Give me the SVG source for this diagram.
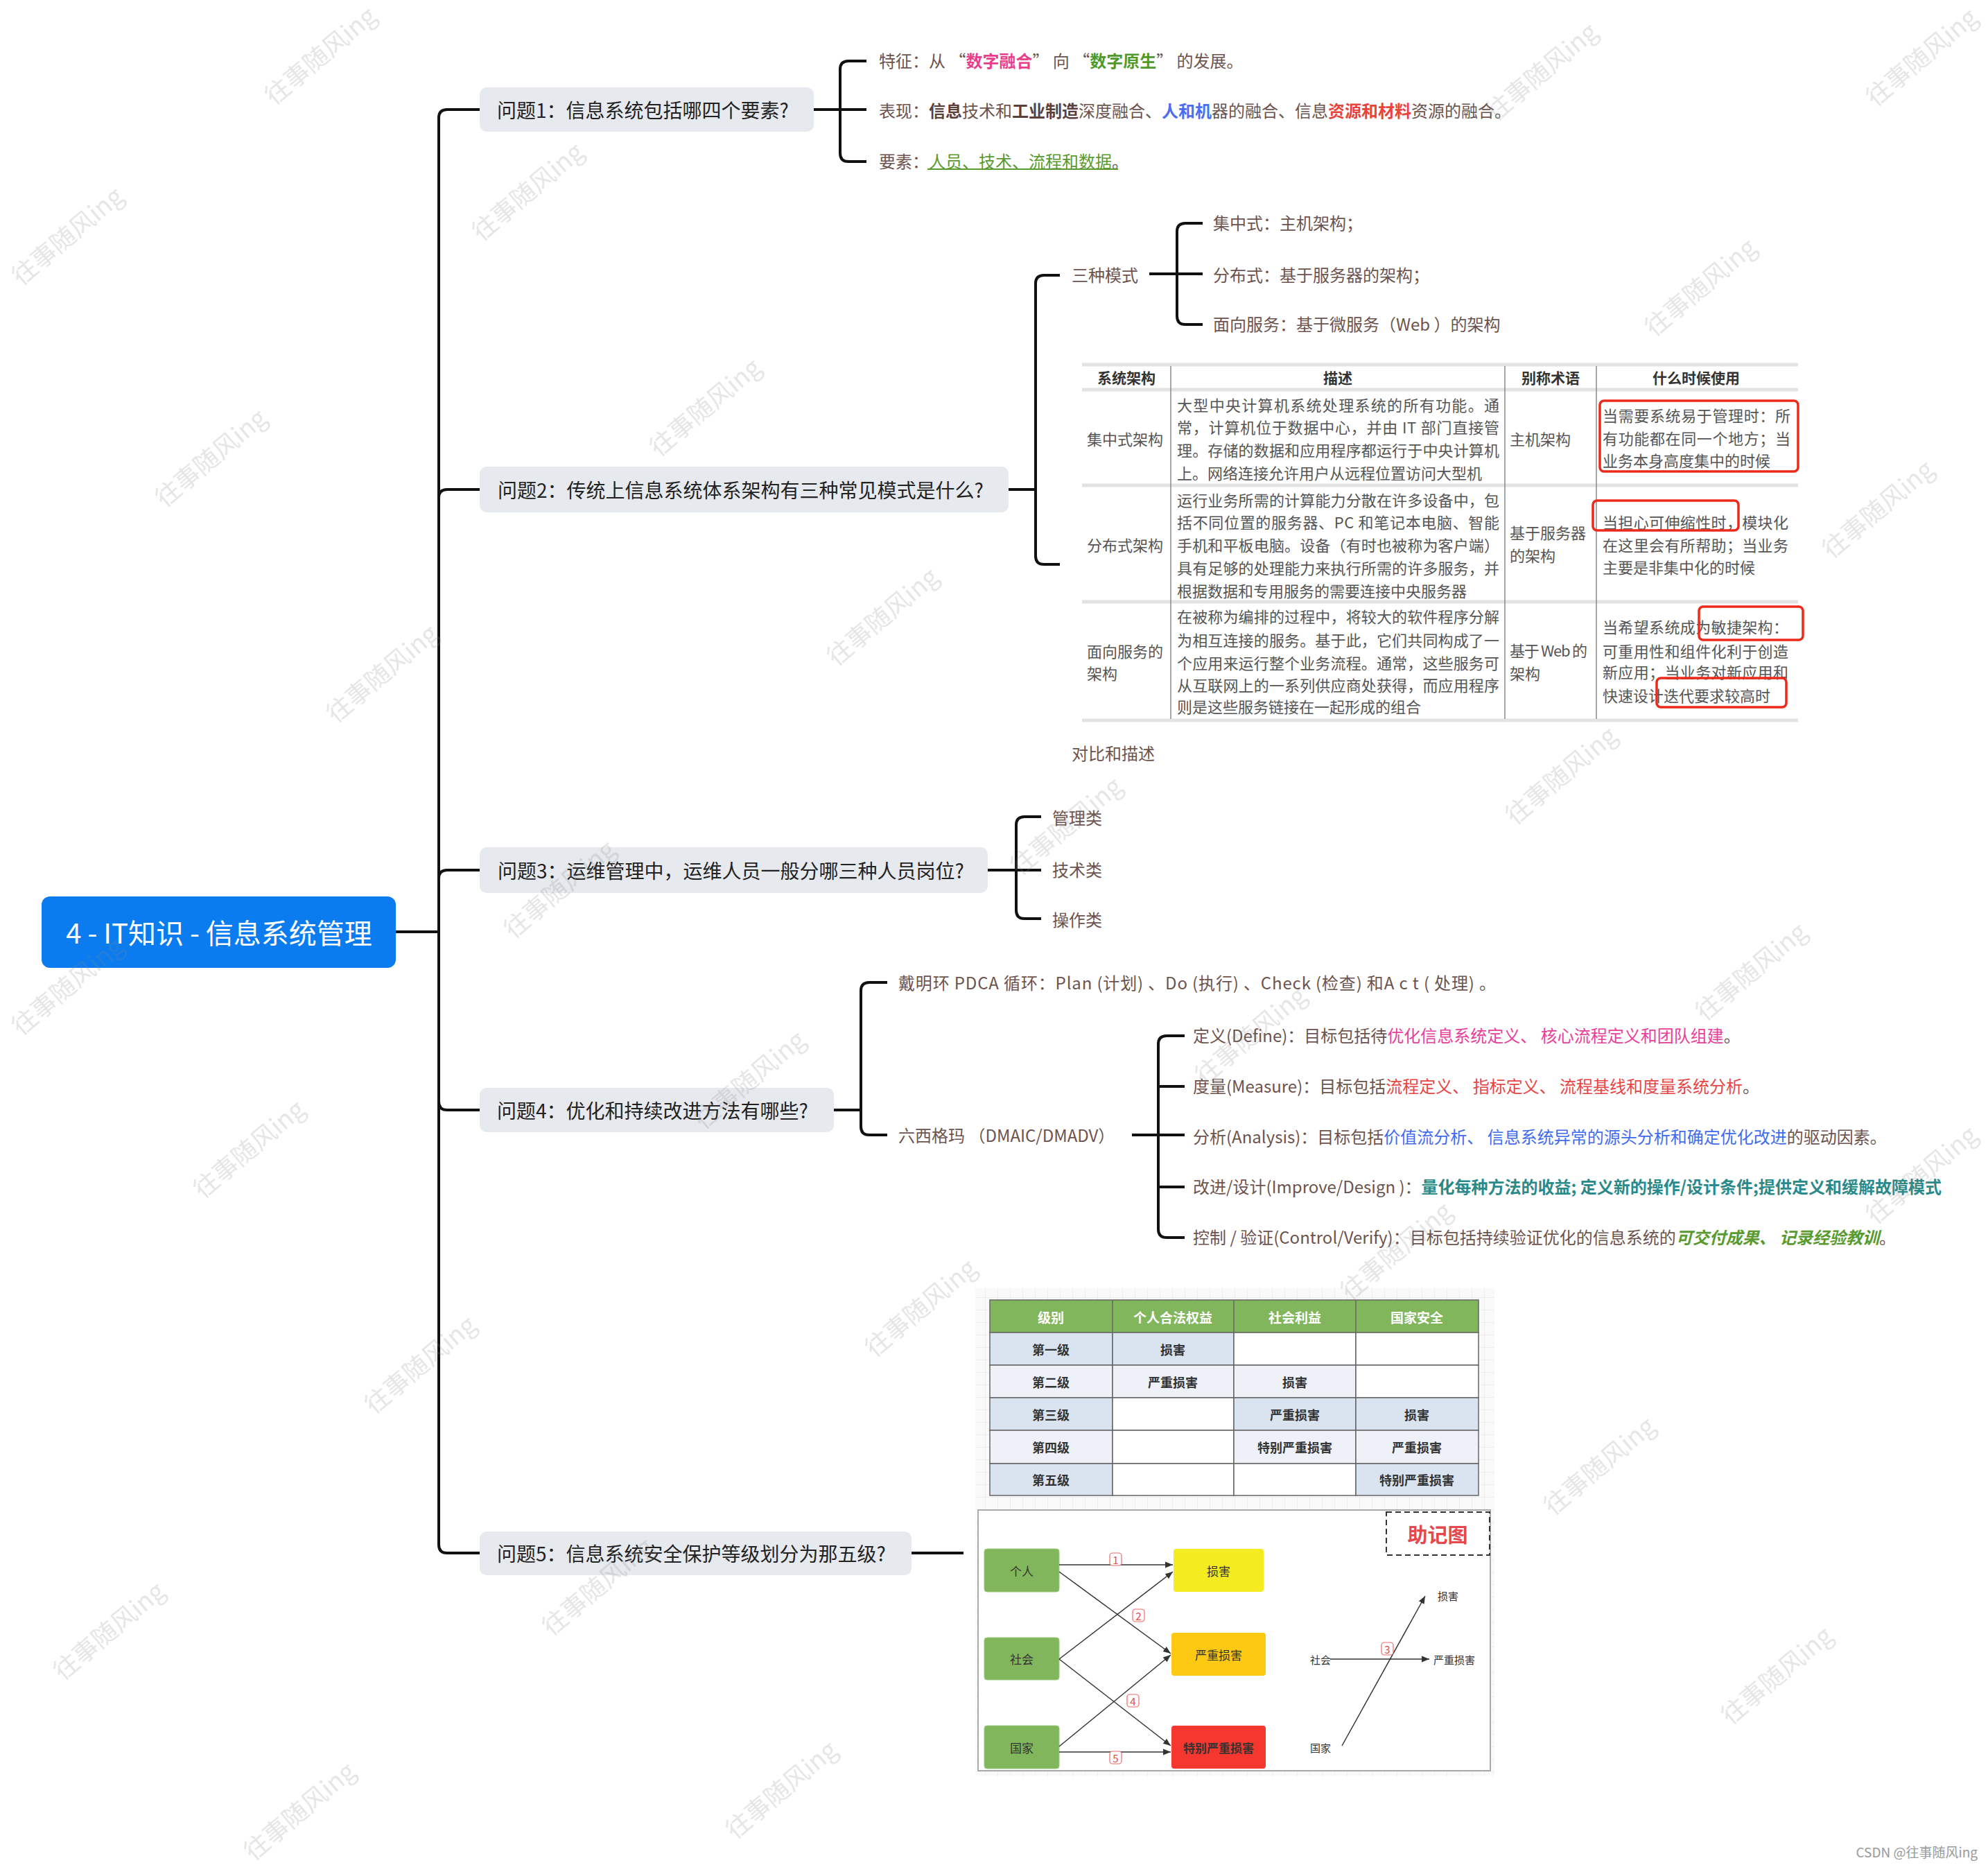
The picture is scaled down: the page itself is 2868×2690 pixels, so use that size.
<svg xmlns="http://www.w3.org/2000/svg" width="2868" height="2690" viewBox="0 0 2868 2690" font-family="'Noto Sans CJK SC', 'Noto Sans', 'Liberation Sans', sans-serif">
<style>
text{dominant-baseline:central}
.root{font-size:40px;fill:#fff}
.q{font-size:28px;fill:#222}
.qb{fill:#e6e9ed}
.c{font-size:24px;fill:#6d534d}
.t{font-size:22px;fill:#555}
.th{font-size:21px;fill:#333;font-weight:bold}
.br{fill:none;stroke:#111;stroke-width:4;stroke-linecap:butt}
.sep{stroke:#e3e3e3;stroke-width:5}
.vl{stroke:#8a8a8a;stroke-width:1.5}
.red{fill:none;stroke:#ec2a1c;stroke-width:3.5}
.lh{font-size:19px;fill:#fff;font-weight:bold}
.lc{font-size:18px;fill:#333;font-weight:bold}
.cell{stroke:#666;stroke-width:1.5}
.mb{font-size:17px;fill:#333}
.ms{font-size:15px;fill:#333}
.ar{stroke:#333;stroke-width:1.5;fill:none;marker-end:url(#arr)}
.nl{fill:#fff;stroke:#f06a6a;stroke-width:1.2}
.nt{font-size:15px;fill:#e84a4a}
.wm{font-size:36px;fill:#888;opacity:0.2}
</style>
<defs>
<pattern id="grid" width="18" height="18" patternUnits="userSpaceOnUse"><rect width="18" height="18" fill="#fafafa"/><path d="M18 0V18H0" fill="none" stroke="#e4e4e4" stroke-width="1"/></pattern>
<marker id="arr" viewBox="0 0 10 10" refX="10" refY="5" markerWidth="11" markerHeight="11" markerUnits="userSpaceOnUse" orient="auto"><path d="M0 1L10 5L0 9z" fill="#333"/></marker>
</defs>
<rect width="2868" height="2690" fill="#fff"/>

<g id="connectors">
<path class="br" d="M571 1344H633"/>
<path class="br" d="M633 1344V170Q633 158 645 158H692"/>
<path class="br" d="M633 1344V718Q633 706 645 706H692"/>
<path class="br" d="M633 1344V1267Q633 1255 645 1255H692"/>
<path class="br" d="M633 1344V1589Q633 1601 645 1601H692"/>
<path class="br" d="M633 1344V2228Q633 2240 645 2240H692"/>
<path class="br" d="M1174 158H1212M1212 158V100Q1212 88 1224 88H1250M1212 158H1250M1212 158V221Q1212 233 1224 233H1250"/>
<path class="br" d="M1455 706H1494M1494 706V409Q1494 397 1506 397H1529M1494 706V802Q1494 814 1506 814H1529"/>
<path class="br" d="M1658 395H1698M1698 395V334Q1698 322 1710 322H1735M1698 395H1735M1698 395V456Q1698 468 1710 468H1735"/>
<path class="br" d="M1425 1255H1466M1466 1255V1190Q1466 1178 1478 1178H1502M1466 1255H1502M1466 1255V1313Q1466 1325 1478 1325H1502"/>
<path class="br" d="M1203 1601H1242M1242 1601V1429Q1242 1417 1254 1417H1280M1242 1601V1625Q1242 1637 1254 1637H1280"/>
<path class="br" d="M1633 1637H1671M1671 1637V1506Q1671 1494 1683 1494H1709M1671 1567H1709M1671 1637H1709M1671 1712H1709M1671 1637V1773Q1671 1785 1683 1785H1709"/>
<path class="br" d="M1315 2240H1390"/>
</g>

<g id="root">
<rect x="60" y="1293" width="511" height="103" rx="12" fill="#0a7cf0"/>
<text class="root" x="316" y="1344" text-anchor="middle">4 - IT知识 - 信息系统管理</text>
</g>

<g id="q1">
<rect class="qb" x="692" y="126" width="482" height="64" rx="10"/>
<text class="q" x="717" y="158">问题1：信息系统包括哪四个要素?</text>
</g>
<g id="q1-c1"><text class="c" x="1268" y="86">特征：从 “<tspan fill="#e83e8c" font-weight="bold">数字融合</tspan>” 向 “<tspan fill="#4e9a2a" font-weight="bold">数字原生</tspan>” 的发展。</text></g>
<g id="q1-c2"><text class="c" x="1268" y="158">表现：<tspan font-weight="bold" fill="#5a3f3a">信息</tspan>技术和<tspan font-weight="bold" fill="#5a3f3a">工业制造</tspan>深度融合、<tspan fill="#4b6ef5" font-weight="bold">人和机</tspan>器的融合、信息<tspan fill="#e8443a" font-weight="bold">资源和材料</tspan>资源的融合。</text></g>
<g id="q1-c3"><text class="c" x="1268" y="231">要素：<tspan fill="#5a9a2f">人员、技术、流程和数据</tspan>。</text>
<line x1="1338" y1="244" x2="1613" y2="244" stroke="#5a9a2f" stroke-width="2"/></g>

<g id="q2">
<rect class="qb" x="692" y="673" width="763" height="66" rx="10"/>
<text class="q" x="718" y="706">问题2：传统上信息系统体系架构有三种常见模式是什么?</text>
</g>
<g id="q2-modes"><text class="c" x="1546" y="395">三种模式</text></g>
<g id="q2-m1"><text class="c" x="1750" y="320">集中式：主机架构；</text></g>
<g id="q2-m2"><text class="c" x="1750" y="395">分布式：基于服务器的架构；</text></g>
<g id="q2-m3"><text class="c" x="1750" y="466">面向服务：基于微服务（Web ）的架构</text></g>

<g id="q2-table">
<rect x="1551" y="515" width="1052" height="530" fill="#fff"/>
<line class="sep" x1="1561" y1="526" x2="2594" y2="526"/>
<line class="sep" x1="1561" y1="562" x2="2594" y2="562"/>
<line class="sep" x1="1561" y1="700" x2="2594" y2="700"/>
<line class="sep" x1="1561" y1="868" x2="2594" y2="868"/>
<line class="sep" x1="1561" y1="1039" x2="2594" y2="1039"/>
<line class="vl" x1="1689" y1="528" x2="1689" y2="1037"/>
<line class="vl" x1="2171" y1="528" x2="2171" y2="1037"/>
<line class="vl" x1="2303" y1="528" x2="2303" y2="1037"/>
<text class="th" x="1625" y="544" text-anchor="middle">系统架构</text>
<text class="th" x="1930" y="544" text-anchor="middle">描述</text>
<text class="th" x="2237" y="544" text-anchor="middle">别称术语</text>
<text class="th" x="2447" y="544" text-anchor="middle">什么时候使用</text>
<text class="t" x="1568" y="632">集中式架构</text>
<text class="t" x="1698" y="583" textLength="465" lengthAdjust="spacing">大型中央计算机系统处理系统的所有功能。通</text>
<text class="t" x="1698" y="615" textLength="465" lengthAdjust="spacing">常，计算机位于数据中心，并由 IT 部门直接管</text>
<text class="t" x="1698" y="648" textLength="465" lengthAdjust="spacing">理。存储的数据和应用程序都运行于中央计算机</text>
<text class="t" x="1698" y="681">上。网络连接允许用户从远程位置访问大型机</text>
<text class="t" x="2178" y="632">主机架构</text>
<text class="t" x="2312" y="598" textLength="271" lengthAdjust="spacing">当需要系统易于管理时：所</text>
<text class="t" x="2312" y="631" textLength="271" lengthAdjust="spacing">有功能都在同一个地方；当</text>
<text class="t" x="2312" y="663">业务本身高度集中的时候</text>
<rect class="red" x="2308" y="578" width="286" height="102" rx="6"/>
<text class="t" x="1568" y="785">分布式架构</text>
<text class="t" x="1698" y="720" textLength="465" lengthAdjust="spacing">运行业务所需的计算能力分散在许多设备中，包</text>
<text class="t" x="1698" y="752" textLength="465" lengthAdjust="spacing">括不同位置的服务器、PC 和笔记本电脑、智能</text>
<text class="t" x="1698" y="785" textLength="465" lengthAdjust="spacing">手机和平板电脑。设备（有时也被称为客户端）</text>
<text class="t" x="1698" y="818" textLength="465" lengthAdjust="spacing">具有足够的处理能力来执行所需的许多服务，并</text>
<text class="t" x="1698" y="851">根据数据和专用服务的需要连接中央服务器</text>
<text class="t" x="2178" y="767">基于服务器</text>
<text class="t" x="2178" y="800">的架构</text>
<text class="t" x="2312" y="752" textLength="268" lengthAdjust="spacing">当担心可伸缩性时，模块化</text>
<text class="t" x="2312" y="785" textLength="268" lengthAdjust="spacing">在这里会有所帮助；当业务</text>
<text class="t" x="2312" y="817">主要是非集中化的时候</text>
<rect class="red" x="2298" y="722" width="210" height="43" rx="6"/>
<text class="t" x="1568" y="938">面向服务的</text>
<text class="t" x="1568" y="970">架构</text>
<text class="t" x="1698" y="888" textLength="465" lengthAdjust="spacing">在被称为编排的过程中，将较大的软件程序分解</text>
<text class="t" x="1698" y="922" textLength="465" lengthAdjust="spacing">为相互连接的服务。基于此，它们共同构成了一</text>
<text class="t" x="1698" y="955" textLength="465" lengthAdjust="spacing">个应用来运行整个业务流程。通常，这些服务可</text>
<text class="t" x="1698" y="987" textLength="465" lengthAdjust="spacing">从互联网上的一系列供应商处获得，而应用程序</text>
<text class="t" x="1698" y="1018">则是这些服务链接在一起形成的组合</text>
<text class="t" x="2178" y="937" textLength="112" lengthAdjust="spacing">基于 Web 的</text>
<text class="t" x="2178" y="970">架构</text>
<text class="t" x="2312" y="903" textLength="268" lengthAdjust="spacing">当希望系统成为敏捷架构：</text>
<text class="t" x="2312" y="938" textLength="268" lengthAdjust="spacing">可重用性和组件化利于创造</text>
<text class="t" x="2312" y="968" textLength="268" lengthAdjust="spacing">新应用；当业务对新应用和</text>
<text class="t" x="2312" y="1002">快速设计迭代要求较高时</text>
<rect class="red" x="2451" y="875" width="150" height="48" rx="6"/>
<rect class="red" x="2390" y="978" width="187" height="42" rx="6"/>
</g>
<g id="q2-label"><text class="c" x="1546" y="1085">对比和描述</text></g>

<g id="q3">
<rect class="qb" x="692" y="1222" width="733" height="66" rx="10"/>
<text class="q" x="718" y="1255">问题3：运维管理中，运维人员一般分哪三种人员岗位?</text>
</g>
<g id="q3-c1"><text class="c" x="1518" y="1178">管理类</text></g>
<g id="q3-c2"><text class="c" x="1518" y="1253">技术类</text></g>
<g id="q3-c3"><text class="c" x="1518" y="1325">操作类</text></g>

<g id="q4">
<rect class="qb" x="692" y="1569" width="511" height="64" rx="10"/>
<text class="q" x="717" y="1601">问题4：优化和持续改进方法有哪些?</text>
</g>
<g id="q4-pdca"><text class="c" x="1296" y="1416" textLength="862" lengthAdjust="spacing">戴明环 PDCA 循环：Plan (计划) 、Do (执行) 、Check (检查)  和A c t ( 处理) 。</text></g>
<g id="q4-six"><text class="c" x="1296" y="1636">六西格玛 （DMAIC/DMADV）</text></g>
<g id="q4-d"><text class="c" x="1721" y="1492">定义(Define)：目标包括待<tspan fill="#e83e9c">优化信息系统定义、 核心流程定义和团队组建</tspan>。</text></g>
<g id="q4-m"><text class="c" x="1721" y="1565">度量(Measure)：目标包括<tspan fill="#e84545">流程定义、 指标定义、 流程基线和度量系统分析</tspan>。</text></g>
<g id="q4-a"><text class="c" x="1721" y="1638">分析(Analysis)：目标包括<tspan fill="#3f6bf0">价值流分析、 信息系统异常的源头分析和确定优化改进</tspan>的驱动因素。</text></g>
<g id="q4-i"><text class="c" x="1721" y="1710">改进/设计(Improve/Design )：<tspan fill="#2a8a8a" font-weight="bold">量化每种方法的收益; 定义新的操作/设计条件;提供定义和缓解故障模式</tspan></text></g>
<g id="q4-c"><text class="c" x="1721" y="1783">控制 / 验证(Control/Verify)：目标包括持续验证优化的信息系统的<tspan fill="#5a9a2f" font-weight="bold" font-style="italic">可交付成果、 记录经验教训</tspan>。</text></g>

<g id="q5">
<rect class="qb" x="692" y="2209" width="623" height="63" rx="10"/>
<text class="q" x="717" y="2240">问题5：信息系统安全保护等级划分为那五级?</text>
</g>

<g id="q5-levels">
<rect x="1407" y="1858" width="749" height="704" fill="url(#grid)"/>
<rect x="1428" y="1875" width="705" height="47" fill="#82b65c" class="cell"/>
<line class="cell" x1="1605" y1="1875" x2="1605" y2="1922"/>
<line class="cell" x1="1780" y1="1875" x2="1780" y2="1922"/>
<line class="cell" x1="1956" y1="1875" x2="1956" y2="1922"/>
<text class="lh" x="1516" y="1899" text-anchor="middle">级别</text>
<text class="lh" x="1692" y="1899" text-anchor="middle">个人合法权益</text>
<text class="lh" x="1868" y="1899" text-anchor="middle">社会利益</text>
<text class="lh" x="2044" y="1899" text-anchor="middle">国家安全</text>
<g class="cell">
<rect x="1428" y="1922" width="177" height="47" fill="#dae3f0"/><rect x="1605" y="1922" width="175" height="47" fill="#dae3f0"/><rect x="1780" y="1922" width="176" height="47" fill="#fff"/><rect x="1956" y="1922" width="177" height="47" fill="#fff"/>
<rect x="1428" y="1969" width="177" height="47" fill="#eef2f8"/><rect x="1605" y="1969" width="175" height="47" fill="#eef2f8"/><rect x="1780" y="1969" width="176" height="47" fill="#eef2f8"/><rect x="1956" y="1969" width="177" height="47" fill="#fff"/>
<rect x="1428" y="2016" width="177" height="47" fill="#dae3f0"/><rect x="1605" y="2016" width="175" height="47" fill="#fff"/><rect x="1780" y="2016" width="176" height="47" fill="#dae3f0"/><rect x="1956" y="2016" width="177" height="47" fill="#dae3f0"/>
<rect x="1428" y="2063" width="177" height="48" fill="#eef2f8"/><rect x="1605" y="2063" width="175" height="48" fill="#fff"/><rect x="1780" y="2063" width="176" height="48" fill="#eef2f8"/><rect x="1956" y="2063" width="177" height="48" fill="#eef2f8"/>
<rect x="1428" y="2111" width="177" height="46" fill="#dae3f0"/><rect x="1605" y="2111" width="175" height="46" fill="#fff"/><rect x="1780" y="2111" width="176" height="46" fill="#fff"/><rect x="1956" y="2111" width="177" height="46" fill="#dae3f0"/>
</g>
<text class="lc" x="1516" y="1946" text-anchor="middle">第一级</text>
<text class="lc" x="1692" y="1946" text-anchor="middle">损害</text>
<text class="lc" x="1516" y="1993" text-anchor="middle">第二级</text>
<text class="lc" x="1692" y="1993" text-anchor="middle">严重损害</text>
<text class="lc" x="1868" y="1993" text-anchor="middle">损害</text>
<text class="lc" x="1516" y="2040" text-anchor="middle">第三级</text>
<text class="lc" x="1868" y="2040" text-anchor="middle">严重损害</text>
<text class="lc" x="2044" y="2040" text-anchor="middle">损害</text>
<text class="lc" x="1516" y="2087" text-anchor="middle">第四级</text>
<text class="lc" x="1868" y="2087" text-anchor="middle">特别严重损害</text>
<text class="lc" x="2044" y="2087" text-anchor="middle">严重损害</text>
<text class="lc" x="1516" y="2134" text-anchor="middle">第五级</text>
<text class="lc" x="2044" y="2134" text-anchor="middle">特别严重损害</text>
</g>

<g id="q5-mnemonic">
<rect x="1411" y="2178" width="739" height="376" fill="#fff" stroke="#aaa" stroke-width="2"/>
<rect x="2000" y="2181" width="149" height="62" fill="none" stroke="#333" stroke-width="2" stroke-dasharray="8 5"/>
<text x="2074" y="2212" text-anchor="middle" font-size="29" font-weight="bold" fill="#e5484d">助记图</text>
<rect x="1420" y="2234" width="108" height="62" rx="4" fill="#82b65c" stroke="#9cc97e"/>
<text class="mb" x="1474" y="2265" text-anchor="middle">个人</text>
<rect x="1420" y="2362" width="108" height="61" rx="4" fill="#82b65c" stroke="#9cc97e"/>
<text class="mb" x="1474" y="2392" text-anchor="middle">社会</text>
<rect x="1420" y="2489" width="108" height="62" rx="4" fill="#82b65c" stroke="#9cc97e"/>
<text class="mb" x="1474" y="2520" text-anchor="middle">国家</text>
<rect x="1693" y="2234" width="130" height="62" rx="4" fill="#f4ec20"/>
<text class="mb" x="1758" y="2265" text-anchor="middle">损害</text>
<rect x="1690" y="2355" width="136" height="62" rx="4" fill="#fdc912"/>
<text class="mb" x="1758" y="2386" text-anchor="middle">严重损害</text>
<rect x="1690" y="2489" width="136" height="62" rx="4" fill="#f5372f"/>
<text class="mb" x="1758" y="2520" text-anchor="middle" font-weight="bold" fill="#111">特别严重损害</text>
<path class="ar" d="M1528 2257H1692"/>
<path class="ar" d="M1528 2267L1689 2385"/>
<path class="ar" d="M1528 2393L1692 2267"/>
<path class="ar" d="M1528 2393L1689 2518"/>
<path class="ar" d="M1528 2519L1689 2387"/>
<path class="ar" d="M1528 2527H1689"/>
<rect class="nl" x="1601" y="2240" width="17" height="18" rx="4"/><text class="nt" x="1609.5" y="2249" text-anchor="middle">1</text>
<rect class="nl" x="1634" y="2321" width="17" height="18" rx="4"/><text class="nt" x="1642.5" y="2330" text-anchor="middle">2</text>
<rect class="nl" x="1626" y="2444" width="17" height="18" rx="4"/><text class="nt" x="1634.5" y="2453" text-anchor="middle">4</text>
<rect class="nl" x="1601" y="2526" width="17" height="18" rx="4"/><text class="nt" x="1609.5" y="2535" text-anchor="middle">5</text>
<text class="ms" x="1890" y="2393">社会</text>
<text class="ms" x="1890" y="2520">国家</text>
<text class="ms" x="2068" y="2393">严重损害</text>
<text class="ms" x="2074" y="2301">损害</text>
<path class="ar" d="M1919 2393H2062"/>
<path class="ar" d="M1936 2518L2056 2302"/>
<rect class="nl" x="1993" y="2369" width="17" height="18" rx="4"/><text class="nt" x="2001.5" y="2378" text-anchor="middle">3</text>
</g>

<g id="watermarks">
<text class="wm" text-anchor="middle" transform="translate(460 78) rotate(-40)">往事随风ing</text>
<text class="wm" text-anchor="middle" transform="translate(95 338) rotate(-40)">往事随风ing</text>
<text class="wm" text-anchor="middle" transform="translate(759 274) rotate(-40)">往事随风ing</text>
<text class="wm" text-anchor="middle" transform="translate(2222 101) rotate(-40)">往事随风ing</text>
<text class="wm" text-anchor="middle" transform="translate(2451 412) rotate(-40)">往事随风ing</text>
<text class="wm" text-anchor="middle" transform="translate(2770 80) rotate(-40)">往事随风ing</text>
<text class="wm" text-anchor="middle" transform="translate(302 658) rotate(-40)">往事随风ing</text>
<text class="wm" text-anchor="middle" transform="translate(1015 585) rotate(-40)">往事随风ing</text>
<text class="wm" text-anchor="middle" transform="translate(2707 732) rotate(-40)">往事随风ing</text>
<text class="wm" text-anchor="middle" transform="translate(549 969) rotate(-40)">往事随风ing</text>
<text class="wm" text-anchor="middle" transform="translate(1271 887) rotate(-40)">往事随风ing</text>
<text class="wm" text-anchor="middle" transform="translate(2250 1116) rotate(-40)">往事随风ing</text>
<text class="wm" text-anchor="middle" transform="translate(1536 1189) rotate(-40)">往事随风ing</text>
<text class="wm" text-anchor="middle" transform="translate(805 1280) rotate(-40)">往事随风ing</text>
<text class="wm" text-anchor="middle" transform="translate(2524 1399) rotate(-40)">往事随风ing</text>
<text class="wm" text-anchor="middle" transform="translate(95 1420) rotate(-40)">往事随风ing</text>
<text class="wm" text-anchor="middle" transform="translate(1079 1555) rotate(-40)">往事随风ing</text>
<text class="wm" text-anchor="middle" transform="translate(1802 1491) rotate(-40)">往事随风ing</text>
<text class="wm" text-anchor="middle" transform="translate(357 1655) rotate(-40)">往事随风ing</text>
<text class="wm" text-anchor="middle" transform="translate(2770 1692) rotate(-40)">往事随风ing</text>
<text class="wm" text-anchor="middle" transform="translate(2012 1802) rotate(-40)">往事随风ing</text>
<text class="wm" text-anchor="middle" transform="translate(1326 1884) rotate(-40)">往事随风ing</text>
<text class="wm" text-anchor="middle" transform="translate(604 1966) rotate(-40)">往事随风ing</text>
<text class="wm" text-anchor="middle" transform="translate(2305 2112) rotate(-40)">往事随风ing</text>
<text class="wm" text-anchor="middle" transform="translate(860 2286) rotate(-40)">往事随风ing</text>
<text class="wm" text-anchor="middle" transform="translate(155 2350) rotate(-40)">往事随风ing</text>
<text class="wm" text-anchor="middle" transform="translate(2561 2414) rotate(-40)">往事随风ing</text>
<text class="wm" text-anchor="middle" transform="translate(1125 2579) rotate(-40)">往事随风ing</text>
<text class="wm" text-anchor="middle" transform="translate(430 2610) rotate(-40)">往事随风ing</text>
</g>
<text x="2853" y="2670" text-anchor="end" font-size="19" fill="#999">CSDN @往事随风ing</text>
</svg>
